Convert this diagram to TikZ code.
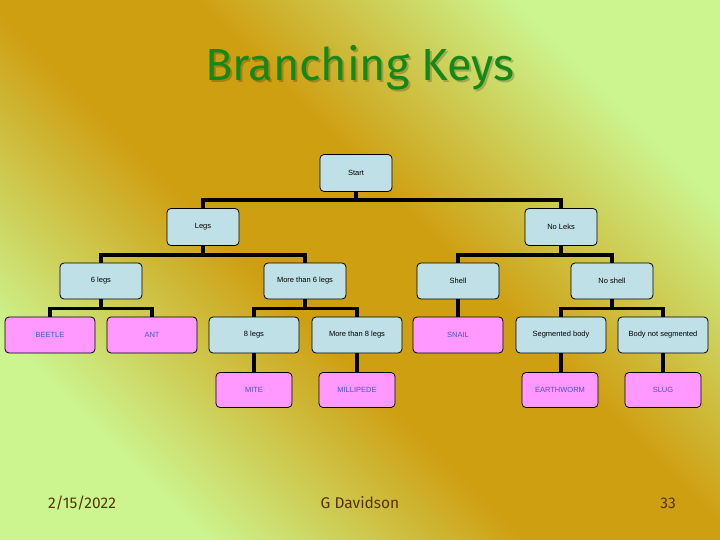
\documentclass[tikz,border=0pt]{standalone}
\usepackage{fontspec}
\setmainfont{Liberation Sans}
\newfontfamily\titlefont{Fira Sans}
\usetikzlibrary{positioning}
\definecolor{BgGreen}{HTML}{CCF590}
\definecolor{BgGold}{HTML}{CF9F12}
\definecolor{StepBlue}{HTML}{BEE0E6}
\definecolor{LeafPink}{HTML}{FF99FF}
\definecolor{LeafText}{HTML}{4A55D0}
\definecolor{TitleGreen}{HTML}{14891A}
\definecolor{FootBrown}{HTML}{553500}
\pgfdeclareverticalshading{slidebg}{100bp}{color(0bp)=(BgGreen);
  color(26bp)=(BgGreen); color(44bp)=(BgGold); color(56bp)=(BgGold);
  color(74bp)=(BgGreen); color(100bp)=(BgGreen)}

\begin{document}
\begin{tikzpicture}[x=1pt, y=-1pt,
  keybox/.style={rectangle, rounded corners=4pt, draw=black, thick,
                 fill=StepBlue, minimum width=72pt, minimum height=37pt,
                 text centered, font=\fontsize{7.5}{9}\selectfont},
  qbox/.style={keybox, minimum width=82pt, minimum height=36pt},
  wbox/.style={keybox, minimum width=90pt, minimum height=36pt},
  leaf/.style={wbox, fill=LeafPink, text=LeafText},
  smallleaf/.style={leaf, minimum width=76pt, minimum height=35pt},
  conn/.style={line width=3.4pt, black},
  titletext/.style={font=\titlefont\fontsize{45}{50}\selectfont},
  foot/.style={font=\titlefont\fontsize{15.5}{18}\selectfont, text=FootBrown},
]

% background
\shade[shading=slidebg, shading angle=-45] (0,0) rectangle (720,540);
\useasboundingbox (0,0) rectangle (720,540);

\node[titletext, text=black, opacity=0.2] (titleshadow) at (362,70) {Branching Keys};
\node[titletext, text=TitleGreen] (title) at (360,68) {Branching Keys};

% level 1 and 2
\node[keybox] (start) at (356,173) {Start};
\node[keybox] (legs) at (203,227) {Legs};
\node[keybox] (noleks) at (561,227) {No Leks};

% level 3
\node[qbox] (six) at (101,281) {6 legs};
\node[qbox] (moresix) at (305,281) {More than 6 legs};
\node[qbox] (shell) at (458,281) {Shell};
\node[qbox] (noshell) at (612,281) {No shell};

% level 4
\node[leaf] (beetle) at (50,335) {BEETLE};
\node[leaf] (ant) at (152,335) {ANT};
\node[wbox] (eight) at (254,335) {8 legs};
\node[wbox] (moreeight) at (357,335) {More than 8 legs};
\node[leaf] (snail) at (458,335) {SNAIL};
\node[wbox] (segm) at (561,335) {Segmented body};
\node[wbox] (nosegm) at (663,335) {Body not segmented};

% level 5
\node[smallleaf] (mite) at (254,390) {MITE};
\node[smallleaf] (milli) at (357,390) {MILLIPEDE};
\node[smallleaf] (worm) at (560,390) {EARTHWORM};
\node[smallleaf] (slug) at (663,390) {SLUG};

\draw[conn] (start.south) -- ++(0,8) -| (legs.north);
\draw[conn] (start.south) -- ++(0,8) -| (noleks.north);
\draw[conn] (legs.south) -- ++(0,9) -| (six.north);
\draw[conn] (legs.south) -- ++(0,9) -| (moresix.north);
\draw[conn] (noleks.south) -- ++(0,9) -| (shell.north);
\draw[conn] (noleks.south) -- ++(0,9) -| (noshell.north);
\draw[conn] (six.south) -- ++(0,9) -| (beetle.north);
\draw[conn] (six.south) -- ++(0,9) -| (ant.north);
\draw[conn] (moresix.south) -- ++(0,9) -| (eight.north);
\draw[conn] (moresix.south) -- ++(0,9) -| (moreeight.north);
\draw[conn] (shell) -- (snail);
\draw[conn] (noshell.south) -- ++(0,9) -| (segm.north);
\draw[conn] (noshell.south) -- ++(0,9) -| (nosegm.north);
\draw[conn] (eight) -- (mite);
\draw[conn] (moreeight) -- (milli);
\draw[conn] (segm.south) -- (worm.north -| segm.south);
\draw[conn] (nosegm) -- (slug);

% footer
\node[foot] (date) at (82,503) {2/15/2022};
\node[foot] (author) at (360,503) {G Davidson};
\node[foot] (page) at (668,503) {33};

\end{tikzpicture}
\end{document}
